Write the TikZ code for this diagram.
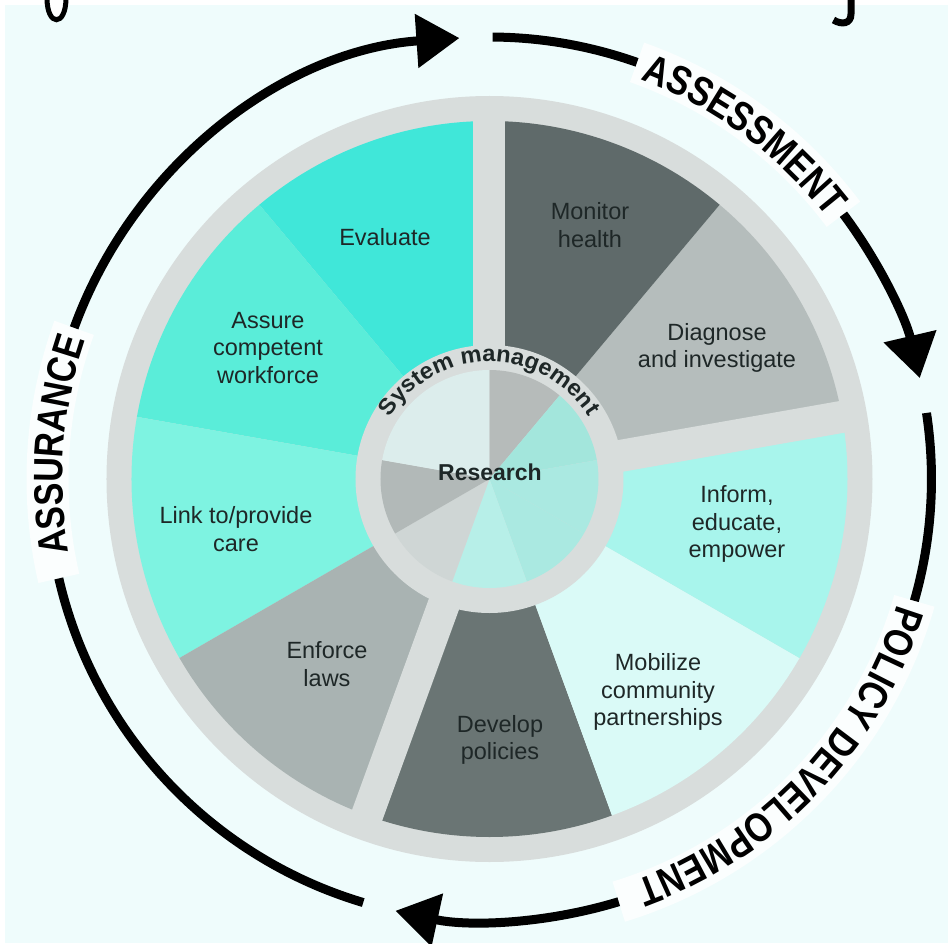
\documentclass[tikz,border=0pt]{standalone}
\usepackage{fontspec}
\setmainfont{Liberation Sans}
\newfontfamily\condfont{Liberation Sans}[FakeStretch=0.83]
\newfontfamily\sysfam{Liberation Sans}[FakeStretch=1.03]
\usetikzlibrary{decorations.text,arrows.meta}
\definecolor{bgc}{HTML}{EFFCFC}
\definecolor{ringc}{HTML}{D8DDDC}
\definecolor{evalc}{HTML}{40E7D9}
\definecolor{assurec}{HTML}{5AEDD9}
\definecolor{linkc}{HTML}{7EF3E1}
\definecolor{enforcec}{HTML}{A9B3B2}
\definecolor{developc}{HTML}{6A7574}
\definecolor{mobilizec}{HTML}{DAFAF7}
\definecolor{informc}{HTML}{A8F5EC}
\definecolor{diagnosec}{HTML}{B5BDBC}
\definecolor{monitorc}{HTML}{5F6A6A}
\definecolor{pa}{HTML}{B6BBBA}
\definecolor{pb}{HTML}{A3E6DC}
\definecolor{pc}{HTML}{AAE9E1}
\definecolor{pd}{HTML}{B7EFE8}
\definecolor{pe}{HTML}{CFD6D5}
\definecolor{pf}{HTML}{B2B9B8}
\definecolor{pg}{HTML}{DCEDEC}
\definecolor{txt}{HTML}{1E2727}
\newcommand{\bigtxtfont}{\condfont\fontsize{41}{41}\selectfont\bfseries}
\newcommand{\sysfont}{\sysfam\fontsize{23}{23}\selectfont\bfseries}
\begin{document}
\begin{tikzpicture}[x=1pt,y=1pt,
  lab/.style={font=\fontsize{23.5}{27.5}\selectfont, text=txt, align=center, inner sep=0pt},
  arr/.style={line width=9pt, black},
  arrtip/.style={-{Triangle[length=43pt,width=52pt]}},
  halo/.style={white!75!bgc, line width=42pt}]
\useasboundingbox (-489.5,-464) rectangle (458.5,479);
\fill[white] (-489.5,-464) rectangle (458.5,479);
\fill[bgc] (-484.5,-464) rectangle (458.5,474);
% outer disc
\fill[ringc] (0,0) circle (383);
% segments
\foreach \a/\b/\col in {90/130/evalc,130/170/assurec,170/210/linkc,210/250/enforcec,
  250/290/developc,290/330/mobilizec,330/370/informc,10/50/diagnosec,50/90/monitorc}{
  \fill[\col] (0,0) -- (\a:358) arc[start angle=\a, end angle=\b, radius=358] -- cycle;
}
% gaps between groups
\foreach \a in {90,10,250}{
  \draw[ringc, line width=32pt] (0,0) -- (\a:372);
}
% hub
\fill[ringc] (0,0) circle (134);
\foreach \a/\b/\col in {50/90/pa,10/50/pb,-30/10/pc,-70/-30/pc,-110/-70/pd,-150/-110/pe,170/210/pf,90/170/pg}{
  \fill[\col] (0,0) -- (\a:109) arc[start angle=\a, end angle=\b, radius=109] -- cycle;
}
% labels
\node[lab] (monitor) at (100.5,254) {Monitor\\health};
\node[lab] (diagnose) at (227.5,131) {Diagnose\\and investigate};
\node[lab] (inform) at (247.5,-45) {Inform,\\educate,\\empower};
\node[lab] (mobilize) at (168.5,-213) {Mobilize\\community\\partnerships};
\node[lab] (develop) at (10.5,-261) {Develop\\policies};
\node[lab] (enforce) at (-162.5,-185) {Enforce\\laws};
\node[lab] (link) at (-253.5,-50) {Link to/provide\\care};
\node[lab] (assure) at (-221.5,131) {Assure\\competent\\workforce};
\node[lab] (evaluate) at (-104.5,242) {Evaluate};
\node[lab, font=\bfseries\fontsize{23}{27}\selectfont] (research) at (0.5,7) {Research};
\path[decorate, decoration={text along path, text color=txt, text={|\sysfont|System management}, text align=center}]
  (170:117) arc[start angle=170, end angle=10.5, radius=117];
% halos behind outer words
\draw[halo] (70.5:442) arc[start angle=70.5, end angle=36.8, radius=442];
\draw[halo] (193:442) arc[start angle=193, end angle=160, radius=442];
\draw[halo] (-16:442) arc[start angle=-16, end angle=-73, radius=442];
% cycle arrows
\draw[arr] (253.4:442) arc[start angle=253.4, end angle=193, radius=442];
\draw[arr, arrtip] (160:442) arc[start angle=160, end angle=93.9, radius=442];
\draw[arr] (89.6:442) arc[start angle=89.6, end angle=70.5, radius=442];
\draw[arr, arrtip] (36.8:442) arc[start angle=36.8, end angle=13.2, radius=442];
\draw[arr] (8.6:442) arc[start angle=8.6, end angle=-16, radius=442];
\draw[arr, arrtip] (-73:442) arc[start angle=-73, end angle=-102.3, radius=442];
% outer words
\path[decorate, decoration={text along path, text={|\bigtxtfont|ASSESSMENT}, text align=center}]
  (80:427) arc[start angle=80, end angle=27, radius=427];
\path[decorate, decoration={text along path, text={|\bigtxtfont|ASSURANCE}, text align=center}]
  (200:427) arc[start angle=200, end angle=150.9, radius=427];
\path[decorate, decoration={text along path, text={|\bigtxtfont|POLICY DEVELOPMENT}, text align=center}]
  (0:427) arc[start angle=0, end angle=-87.1, radius=427];
% cropped marks at the top edge
\draw[line width=5pt, fill=white] (-442.5,481) .. controls (-442.5,452) and (-423.5,452) .. (-423.5,481);
\draw[line width=7pt] (361.5,481) -- (361.5,465) .. controls (361.5,455) and (352,454) .. (344,459);
\end{tikzpicture}
\end{document}
